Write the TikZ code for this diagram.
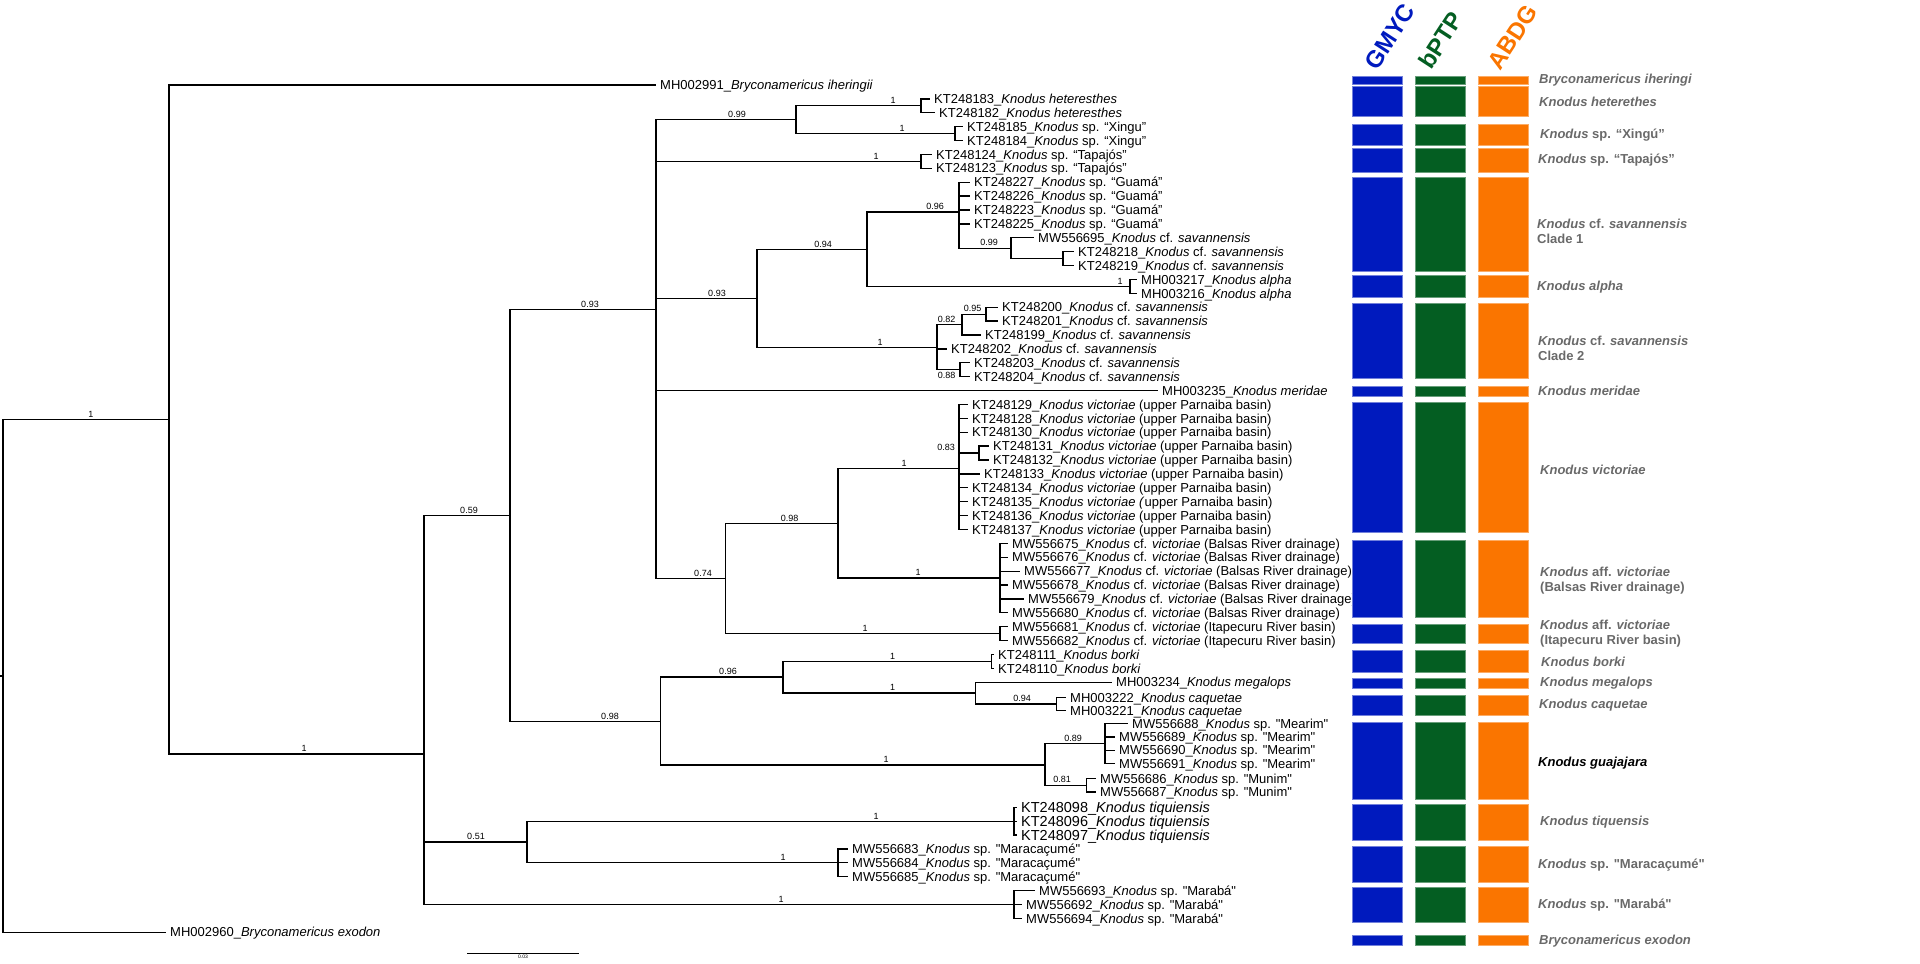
\documentclass[tikz,border=0pt]{standalone}
\usepackage{fontspec}
\setmainfont{Liberation Sans}[Ligatures=TeXOff]
\definecolor{azul}{RGB}{0,26,190}
\definecolor{verde}{RGB}{4,94,34}
\definecolor{naranja}{RGB}{250,117,0}
\definecolor{gris}{RGB}{105,105,105}

\begin{document}
\begin{tikzpicture}[x=1pt,y=-1pt,
    rama/.style={line width=1.3pt},
    hoja/.style={anchor=west, inner xsep=4pt, inner ysep=0pt, text height=9.3pt, text depth=0pt, font=\fontsize{13}{15}\selectfont},
    hojag/.style={hoja, text height=10.4pt, font=\fontsize{14.5}{16}\selectfont},
    soporte/.style={anchor=south, inner sep=0pt, yshift=2pt, font=\fontsize{9}{10}\selectfont},
    especie/.style={anchor=west, inner sep=0pt, align=left, text=gris, font=\fontsize{13}{15}\selectfont\bfseries},
    metodo/.style={anchor=base west, inner sep=0pt, rotate=57, font=\fontsize{24}{26}\selectfont\bfseries}]
    \useasboundingbox (0,0) rectangle (1920,964);

    % Terminales del arbol
    \node[hoja] (t01) at (656,85) {MH002991\_\textit{Bryconamericus iheringii}};
    \node[hoja] (t02) at (930,98.9) {KT248183\_\textit{Knodus heteresthes}};
    \node[hoja] (t03) at (935,112.8) {KT248182\_\textit{Knodus heteresthes}};
    \node[hoja] (t04) at (963,126.7) {KT248185\_\textit{Knodus} sp. “Xingu”};
    \node[hoja] (t05) at (963,140.6) {KT248184\_\textit{Knodus} sp. “Xingu”};
    \node[hoja] (t06) at (932,154.5) {KT248124\_\textit{Knodus} sp. “Tapajós”};
    \node[hoja] (t07) at (932,168.3) {KT248123\_\textit{Knodus} sp. “Tapajós”};
    \node[hoja] (t08) at (970,182.2) {KT248227\_\textit{Knodus} sp. “Guamá”};
    \node[hoja] (t09) at (970,196.1) {KT248226\_\textit{Knodus} sp. “Guamá”};
    \node[hoja] (t10) at (970,210.0) {KT248223\_\textit{Knodus} sp. “Guamá”};
    \node[hoja] (t11) at (970,223.9) {KT248225\_\textit{Knodus} sp. “Guamá”};
    \node[hoja] (t12) at (1034,237.8) {MW556695\_\textit{Knodus} cf. \textit{savannensis}};
    \node[hoja] (t13) at (1074,251.7) {KT248218\_\textit{Knodus} cf. \textit{savannensis}};
    \node[hoja] (t14) at (1074,265.6) {KT248219\_\textit{Knodus} cf. \textit{savannensis}};
    \node[hoja] (t15) at (1137,279.5) {MH003217\_\textit{Knodus alpha}};
    \node[hoja] (t16) at (1137,293.4) {MH003216\_\textit{Knodus alpha}};
    \node[hoja] (t17) at (998,307.2) {KT248200\_\textit{Knodus} cf. \textit{savannensis}};
    \node[hoja] (t18) at (998,321.1) {KT248201\_\textit{Knodus} cf. \textit{savannensis}};
    \node[hoja] (t19) at (981,335.0) {KT248199\_\textit{Knodus} cf. \textit{savannensis}};
    \node[hoja] (t20) at (947,348.9) {KT248202\_\textit{Knodus} cf. \textit{savannensis}};
    \node[hoja] (t21) at (970,362.8) {KT248203\_\textit{Knodus} cf. \textit{savannensis}};
    \node[hoja] (t22) at (970,376.7) {KT248204\_\textit{Knodus} cf. \textit{savannensis}};
    \node[hoja] (t23) at (1158,390.6) {MH003235\_\textit{Knodus meridae}};
    \node[hoja] (t24) at (968,404.5) {KT248129\_\textit{Knodus victoriae} (upper Parnaiba basin)};
    \node[hoja] (t25) at (968,418.4) {KT248128\_\textit{Knodus victoriae} (upper Parnaiba basin)};
    \node[hoja] (t26) at (968,432.3) {KT248130\_\textit{Knodus victoriae} (upper Parnaiba basin)};
    \node[hoja] (t27) at (989,446.1) {KT248131\_\textit{Knodus victoriae} (upper Parnaiba basin)};
    \node[hoja] (t28) at (989,460.0) {KT248132\_\textit{Knodus victoriae} (upper Parnaiba basin)};
    \node[hoja] (t29) at (980,473.9) {KT248133\_\textit{Knodus victoriae} (upper Parnaiba basin)};
    \node[hoja] (t30) at (968,487.8) {KT248134\_\textit{Knodus victoriae} (upper Parnaiba basin)};
    \node[hoja] (t31) at (968,501.7) {KT248135\_\textit{Knodus victoriae (}upper Parnaiba basin)};
    \node[hoja] (t32) at (968,515.6) {KT248136\_\textit{Knodus victoriae} (upper Parnaiba basin)};
    \node[hoja] (t33) at (968,529.5) {KT248137\_\textit{Knodus victoriae} (upper Parnaiba basin)};
    \node[hoja] (t34) at (1008,543.4) {MW556675\_\textit{Knodus} cf. \textit{victoriae} (Balsas River drainage)};
    \node[hoja] (t35) at (1008,557.3) {MW556676\_\textit{Knodus} cf. \textit{victoriae} (Balsas River drainage)};
    \node[hoja] (t36) at (1020,571.2) {MW556677\_\textit{Knodus} cf. \textit{victoriae} (Balsas River drainage)};
    \node[hoja] (t37) at (1008,585.0) {MW556678\_\textit{Knodus} cf. \textit{victoriae} (Balsas River drainage)};
    \node[hoja] (t38) at (1024,598.9) {MW556679\_\textit{Knodus} cf. \textit{victoriae} (Balsas River drainage)};
    \node[hoja] (t39) at (1008,612.8) {MW556680\_\textit{Knodus} cf. \textit{victoriae} (Balsas River drainage)};
    \node[hoja] (t40) at (1008,626.7) {MW556681\_\textit{Knodus} cf. \textit{victoriae} (Itapecuru River basin)};
    \node[hoja] (t41) at (1008,640.6) {MW556682\_\textit{Knodus} cf. \textit{victoriae} (Itapecuru River basin)};
    \node[hoja] (t42) at (994,654.5) {KT248111\_\textit{Knodus borki}};
    \node[hoja] (t43) at (994,668.4) {KT248110\_\textit{Knodus borki}};
    \node[hoja] (t44) at (1112,682.3) {MH003234\_\textit{Knodus megalops}};
    \node[hoja] (t45) at (1066,697.5) {MH003222\_\textit{Knodus caquetae}};
    \node[hoja] (t46) at (1066,710.5) {MH003221\_\textit{Knodus caquetae}};
    \node[hoja] (t47) at (1128,723.5) {MW556688\_\textit{Knodus} sp. "Mearim"};
    \node[hoja] (t48) at (1115,737.0) {MW556689\_\textit{Knodus} sp. "Mearim"};
    \node[hoja] (t49) at (1115,750.3) {MW556690\_\textit{Knodus} sp. "Mearim"};
    \node[hoja] (t50) at (1115,763.6) {MW556691\_\textit{Knodus} sp. "Mearim"};
    \node[hoja] (t51) at (1096,778.5) {MW556686\_\textit{Knodus} sp. "Munim"};
    \node[hoja] (t52) at (1096,792.0) {MW556687\_\textit{Knodus} sp. "Munim"};
    \node[hojag] (t53) at (1017,807.3) {KT248098\_\textit{Knodus tiquiensis}};
    \node[hojag] (t54) at (1017,821.2) {KT248096\_\textit{Knodus tiquiensis}};
    \node[hojag] (t55) at (1017,835.1) {KT248097\_\textit{Knodus tiquiensis}};
    \node[hoja] (t56) at (848,849.0) {MW556683\_\textit{Knodus} sp. "Maracaçumé"};
    \node[hoja] (t57) at (848,862.8) {MW556684\_\textit{Knodus} sp. "Maracaçumé"};
    \node[hoja] (t58) at (848,876.7) {MW556685\_\textit{Knodus} sp. "Maracaçumé"};
    \node[hoja] (t59) at (1035,890.6) {MW556693\_\textit{Knodus} sp. "Marabá"};
    \node[hoja] (t60) at (1022,904.5) {MW556692\_\textit{Knodus} sp. "Marabá"};
    \node[hoja] (t61) at (1022,918.4) {MW556694\_\textit{Knodus} sp. "Marabá"};
    \node[hoja] (t62) at (166,932.3) {MH002960\_\textit{Bryconamericus exodon}};

    % Nodos internos (x, media de los hijos)
    \coordinate (raiz) at (0,675.9);
    \coordinate (nR) at (3,675.9);
    \coordinate (nA) at (169,419.5);
    \coordinate (nB) at (424,754.0);
    \coordinate (nC) at (510,515.5);
    \coordinate (nF) at (656,309.7);
    \coordinate (nI) at (796,119.7);
    \coordinate (nHet) at (921,105.8);
    \coordinate (nXin) at (955,133.6);
    \coordinate (nTap) at (921,161.4);
    \coordinate (nH) at (757,298.5);
    \coordinate (nM) at (867,249.3);
    \coordinate (nK) at (959,212.1);
    \coordinate (nL) at (1011,248.2);
    \coordinate (nL2) at (1063,258.6);
    \coordinate (nAlp) at (1130,286.4);
    \coordinate (nN) at (937,347.7);
    \coordinate (n082) at (962,324.6);
    \coordinate (n095) at (986,314.2);
    \coordinate (n088) at (960,369.7);
    \coordinate (nJ) at (725.5,578.5);
    \coordinate (nP) at (838,523.4);
    \coordinate (nQ) at (959,468.6);
    \coordinate (n083) at (979,453.1);
    \coordinate (nS) at (1000,578.1);
    \coordinate (nIta) at (1000,633.7);
    \coordinate (nG) at (660.7,721.3);
    \coordinate (nT) at (783,677.1);
    \coordinate (nBor) at (991.5,661.4);
    \coordinate (nV) at (975.5,693.0);
    \coordinate (nW) at (1056.7,704.0);
    \coordinate (nU) at (1045,765.0);
    \coordinate (nMea) at (1105,743.6);
    \coordinate (nMun) at (1086.7,785.2);
    \coordinate (nD) at (527,842.0);
    \coordinate (nTiq) at (1014,821.2);
    \coordinate (nMar) at (838,862.8);
    \coordinate (nE) at (1014,904.5);

    % Ramas
    \draw[rama] (raiz) -- (nR);
    \draw[rama] (nR) |- (nA);
    \draw[rama] (nR) |- (t62.west);
    \draw[rama] (nA) |- (t01.west);
    \draw[rama] (nA) |- (nB);
    \draw[rama] (nB) |- (nC);
    \draw[rama] (nB) |- (nD);
    \draw[rama] (nB) |- (nE);
    \draw[rama] (nC) |- (nF);
    \draw[rama] (nC) |- (nG);
    \draw[rama] (nF) |- (nI);
    \draw[rama] (nF) |- (nTap);
    \draw[rama] (nF) |- (nH);
    \draw[rama] (nF) |- (t23.west);
    \draw[rama] (nF) |- (nJ);
    \draw[rama] (nI) |- (nHet);
    \draw[rama] (nI) |- (nXin);
    \draw[rama] (nHet) |- (t02.west);
    \draw[rama] (nHet) |- (t03.west);
    \draw[rama] (nXin) |- (t04.west);
    \draw[rama] (nXin) |- (t05.west);
    \draw[rama] (nTap) |- (t06.west);
    \draw[rama] (nTap) |- (t07.west);
    \draw[rama] (nH) |- (nM);
    \draw[rama] (nH) |- (nN);
    \draw[rama] (nM) |- (nK);
    \draw[rama] (nM) |- (nAlp);
    \foreach \h in {08,09,10,11} \draw[rama] (nK) |- (t\h.west);
    \draw[rama] (nK) |- (nL);
    \draw[rama] (nL) |- (t12.west);
    \draw[rama] (nL) |- (nL2);
    \draw[rama] (nL2) |- (t13.west);
    \draw[rama] (nL2) |- (t14.west);
    \draw[rama] (nAlp) |- (t15.west);
    \draw[rama] (nAlp) |- (t16.west);
    \draw[rama] (nN) |- (n082);
    \draw[rama] (nN) |- (t20.west);
    \draw[rama] (nN) |- (n088);
    \draw[rama] (n082) |- (n095);
    \draw[rama] (n082) |- (t19.west);
    \draw[rama] (n095) |- (t17.west);
    \draw[rama] (n095) |- (t18.west);
    \draw[rama] (n088) |- (t21.west);
    \draw[rama] (n088) |- (t22.west);
    \draw[rama] (nJ) |- (nP);
    \draw[rama] (nJ) |- (nIta);
    \draw[rama] (nP) |- (nQ);
    \draw[rama] (nP) |- (nS);
    \foreach \h in {24,25,26,29,30,31,32,33} \draw[rama] (nQ) |- (t\h.west);
    \draw[rama] (nQ) |- (n083);
    \draw[rama] (n083) |- (t27.west);
    \draw[rama] (n083) |- (t28.west);
    \foreach \h in {34,35,36,37,38,39} \draw[rama] (nS) |- (t\h.west);
    \draw[rama] (nIta) |- (t40.west);
    \draw[rama] (nIta) |- (t41.west);
    \draw[rama] (nG) |- (nT);
    \draw[rama] (nG) |- (nU);
    \draw[rama] (nT) |- (nBor);
    \draw[rama] (nT) |- (nV);
    \draw[rama] (nBor) |- (t42.west);
    \draw[rama] (nBor) |- (t43.west);
    \draw[rama] (nV) |- (t44.west);
    \draw[rama] (nV) |- (nW);
    \draw[rama] (nW) |- (t45.west);
    \draw[rama] (nW) |- (t46.west);
    \draw[rama] (nU) |- (nMea);
    \draw[rama] (nU) |- (nMun);
    \foreach \h in {47,48,49,50} \draw[rama] (nMea) |- (t\h.west);
    \draw[rama] (nMun) |- (t51.west);
    \draw[rama] (nMun) |- (t52.west);
    \draw[rama] (nD) |- (nTiq);
    \draw[rama] (nD) |- (nMar);
    \foreach \h in {53,54,55} \draw[rama] (nTiq) |- (t\h.west);
    \foreach \h in {56,57,58} \draw[rama] (nMar) |- (t\h.west);
    \foreach \h in {59,60,61} \draw[rama] (nE) |- (t\h.west);

    % Valores de soporte
    \node[soporte] (s01) at (91,419.5) {1};
    \node[soporte] (s02) at (304,754.0) {1};
    \node[soporte] (s03) at (469,515.5) {0.59};
    \node[soporte] (s04) at (590,309.7) {0.93};
    \node[soporte] (s05) at (737,119.7) {0.99};
    \node[soporte] (s06) at (893,105.8) {1};
    \node[soporte] (s07) at (902,133.6) {1};
    \node[soporte] (s08) at (876,161.4) {1};
    \node[soporte] (s09) at (717,298.5) {0.93};
    \node[soporte] (s10) at (823,249.3) {0.94};
    \node[soporte] (s11) at (935,212.1) {0.96};
    \node[soporte] (s12) at (989,248.2) {0.99};
    \node[soporte] (s13) at (1120,286.4) {1};
    \node[soporte] (s14) at (880,347.7) {1};
    \node[soporte] (s15) at (946.5,324.6) {0.82};
    \node[soporte] (s16) at (972.6,314.2) {0.95};
    \node[soporte, anchor=north, yshift=-4pt] (s17) at (946.5,369.7) {0.88};
    \node[soporte] (s18) at (703,578.5) {0.74};
    \node[soporte] (s19) at (789.5,523.4) {0.98};
    \node[soporte] (s20) at (904,468.6) {1};
    \node[soporte] (s21) at (946,453.1) {0.83};
    \node[soporte] (s22) at (918,578.1) {1};
    \node[soporte] (s23) at (865,633.7) {1};
    \node[soporte] (s24) at (610,721.3) {0.98};
    \node[soporte] (s25) at (728,677.1) {0.96};
    \node[soporte] (s26) at (892.6,661.4) {1};
    \node[soporte] (s27) at (892.6,693.0) {1};
    \node[soporte] (s28) at (1022,704.0) {0.94};
    \node[soporte] (s29) at (886,765.0) {1};
    \node[soporte] (s30) at (1073,743.6) {0.89};
    \node[soporte] (s31) at (1062,785.2) {0.81};
    \node[soporte] (s32) at (476,842.0) {0.51};
    \node[soporte] (s33) at (876,821.2) {1};
    \node[soporte] (s34) at (783,862.8) {1};
    \node[soporte] (s35) at (781,904.5) {1};

    % Barra de escala
    \coordinate (esc1) at (467,953);
    \coordinate (esc2) at (579,953);
    \draw[line width=0.8pt] (esc1) -- (esc2) node[midway, below=2pt, inner sep=0pt, font=\fontsize{5}{6}\selectfont] (esc) {0.03};

    % Metodos de delimitacion
    \node[metodo, text=azul] (gmyc) at (1377,71.5) {GMYC};
    \node[metodo, text=verde] (bptp) at (1431,70.5) {bPTP};
    \node[metodo, text=naranja] (abdg) at (1500,71.5) {ABDG};
    \foreach \a/\b in {76.7/84, 86.7/116.7, 124/145.7, 148.3/172.3, 177.3/271, 275.3/297.7, 303.7/378.7, 386.3/396, 402.7/532.7, 540.7/617.7, 624/643.3, 650/672.3, 678.3/688.7, 695.3/715.7, 722/799.3, 804.3/840, 846.7/882.3, 887.7/922, 935/945} {
        \filldraw[fill=azul, draw=azul!55!white, line width=0.8pt] (1352.5,\a) rectangle (1402.5,\b);
        \filldraw[fill=verde, draw=verde!60!white, line width=0.8pt] (1415,\a) rectangle (1465.5,\b);
        \filldraw[fill=naranja, draw=naranja!60!white, line width=0.8pt] (1478,\a) rectangle (1528.5,\b);
    }

    % Especies delimitadas
    \node[especie] (e01) at (1539,80) {\textit{Bryconamericus iheringi}};
    \node[especie] (e02) at (1539,102.3) {\textit{Knodus heterethes}};
    \node[especie] (e03) at (1540,135) {\textit{Knodus} sp. “Xingú”};
    \node[especie] (e04) at (1538,160) {\textit{Knodus} sp. “Tapajós”};
    \node[especie] (e05) at (1537,231.8) {\textit{Knodus} cf. \textit{savannensis}\\Clade 1};
    \node[especie] (e06) at (1537,287.3) {\textit{Knodus alpha}};
    \node[especie] (e07) at (1538,348.2) {\textit{Knodus} cf. \textit{savannensis}\\Clade 2};
    \node[especie] (e08) at (1538,391) {\textit{Knodus meridae}};
    \node[especie] (e09) at (1540,470.3) {\textit{Knodus victoriae}};
    \node[especie] (e10) at (1540,581) {\textit{Knodus} aff. \textit{victoriae}\\(Balsas River drainage)};
    \node[especie] (e11) at (1540,634) {\textit{Knodus} aff. \textit{victoriae}\\(Itapecuru River basin)};
    \node[especie] (e12) at (1541,662.3) {\textit{Knodus borki}};
    \node[especie] (e13) at (1540,683.3) {\textit{Knodus megalops}};
    \node[especie] (e14) at (1539,705.3) {\textit{Knodus caquetae}};
    \node[especie, text=black] (e15) at (1538,763.3) {\textit{Knodus guajajara}};
    \node[especie] (e16) at (1540,822.3) {\textit{Knodus tiquensis}};
    \node[especie] (e17) at (1538,865.3) {\textit{Knodus} sp. "Maracaçumé"};
    \node[especie] (e18) at (1538,904.7) {\textit{Knodus} sp. "Marabá"};
    \node[especie] (e19) at (1539,940.7) {\textit{Bryconamericus exodon}};
\end{tikzpicture}
\end{document}
